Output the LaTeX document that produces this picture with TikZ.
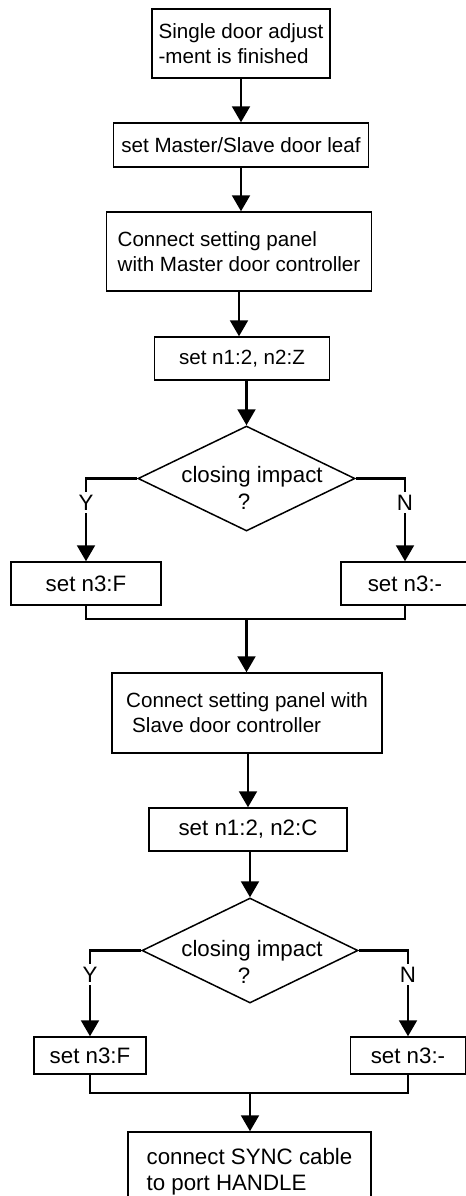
\documentclass[tikz,border=0pt]{standalone}
\usepackage{fontspec}
\setmainfont{Liberation Sans}
\usetikzlibrary{arrows.meta,shapes.geometric}
\begin{document}
\begin{tikzpicture}[x=0.5pt,y=-0.5pt,
  every node/.style={font=\fontsize{10.3}{12.4}\selectfont},
  big/.style={font=\fontsize{11.15}{13.1}\selectfont},
  box/.style={draw,line width=0.75pt,align=left,inner sep=0pt},
  dia/.style={draw,line width=0.75pt,shape=diamond,inner sep=0pt,minimum width=108.5pt,minimum height=52.5pt},
  conn/.style={line width=1.05pt},
  arr/.style={line width=1.05pt,-{Triangle[length=8pt,width=9pt]}},
  yn/.style={big,fill=white,inner sep=1.5pt}]
\fill[white] (0,0) rectangle (466,1196);
\useasboundingbox (0,0) rectangle (466,1196);

\node[box,minimum width=89pt,minimum height=34.5pt] (b1) at (241,43.5) {Single door adjust\\-ment is finished};
\node[box,minimum width=127.5pt,minimum height=22pt] (b2) at (241,145) {set Master/Slave door leaf};
\node[box,minimum width=132.5pt,minimum height=39.5pt] (b3) at (239,251.5) {Connect setting panel\\with Master door controller};
\node[box,minimum width=87.5pt,minimum height=21.5pt] (b4) at (242,358.5) {set n1:2, n2:Z};
\node[dia] (d1) at (246.5,478.5) {};
\node[big] (t1) at (252,488) [align=center] {closing impact\\?\hspace*{8pt}};
\node[box,big,minimum width=75pt,minimum height=21.5pt] (b5l) at (86,583.5) {set n3:F};
\node[box,big,minimum width=64pt,minimum height=21.5pt] (b5r) at (405,583.5) {set n3:-};
\coordinate (m1) at (246.5,619);
\node[box,minimum width=135pt,minimum height=40pt] (b6) at (247,713) {Connect setting panel with\\\hspace*{3pt}Slave door controller};
\node[box,big,minimum width=99pt,minimum height=21.5pt] (b7) at (248,829.5) {set n1:2, n2:C};
\node[dia,minimum width=108pt] (d2) at (250,950.5) {};
\node[big] (t2) at (252,962) [align=center] {closing impact\\?\hspace*{8pt}};
\node[box,big,minimum width=56pt,minimum height=18.5pt] (b8l) at (90,1055.5) {set n3:F};
\node[box,big,minimum width=57.5pt,minimum height=18.5pt] (b8r) at (408,1055.5) {set n3:-};
\coordinate (m2) at (250,1093);
\node[box,big,minimum width=121.5pt,minimum height=40pt] (b9) at (249.5,1172) {connect SYNC cable\\to port HANDLE};

\draw[arr] (b1) -- (b2);
\draw[arr] (b2) -- (b2.south |- b3.north);
\draw[arr] (b3.south) -- (b3.south |- b4.north);
\draw[arr] (b4.south -| d1.north) -- (d1.north);
\draw[arr] (d1.west) -| (b5l.north) node[yn,pos=0.645] {Y};
\draw[arr] (d1.east) -| (b5r.north) node[yn,pos=0.645] {N};
\draw[conn] (b5l.south) |- (m1) -| (b5r.south);
\draw[arr] (m1) -- (m1 |- b6.north);
\draw[arr] (b6.south -| b7.north) -- (b7.north);
\draw[arr] (b7.south -| d2.north) -- (d2.north);
\draw[arr] (d2.west) -| (b8l.north) node[yn,pos=0.64] {Y};
\draw[arr] (d2.east) -| (b8r.north) node[yn,pos=0.64] {N};
\draw[conn] (b8l.south) |- (m2) -| (b8r.south);
\draw[arr] (m2) -- (m2 |- b9.north);
\end{tikzpicture}
\end{document}
